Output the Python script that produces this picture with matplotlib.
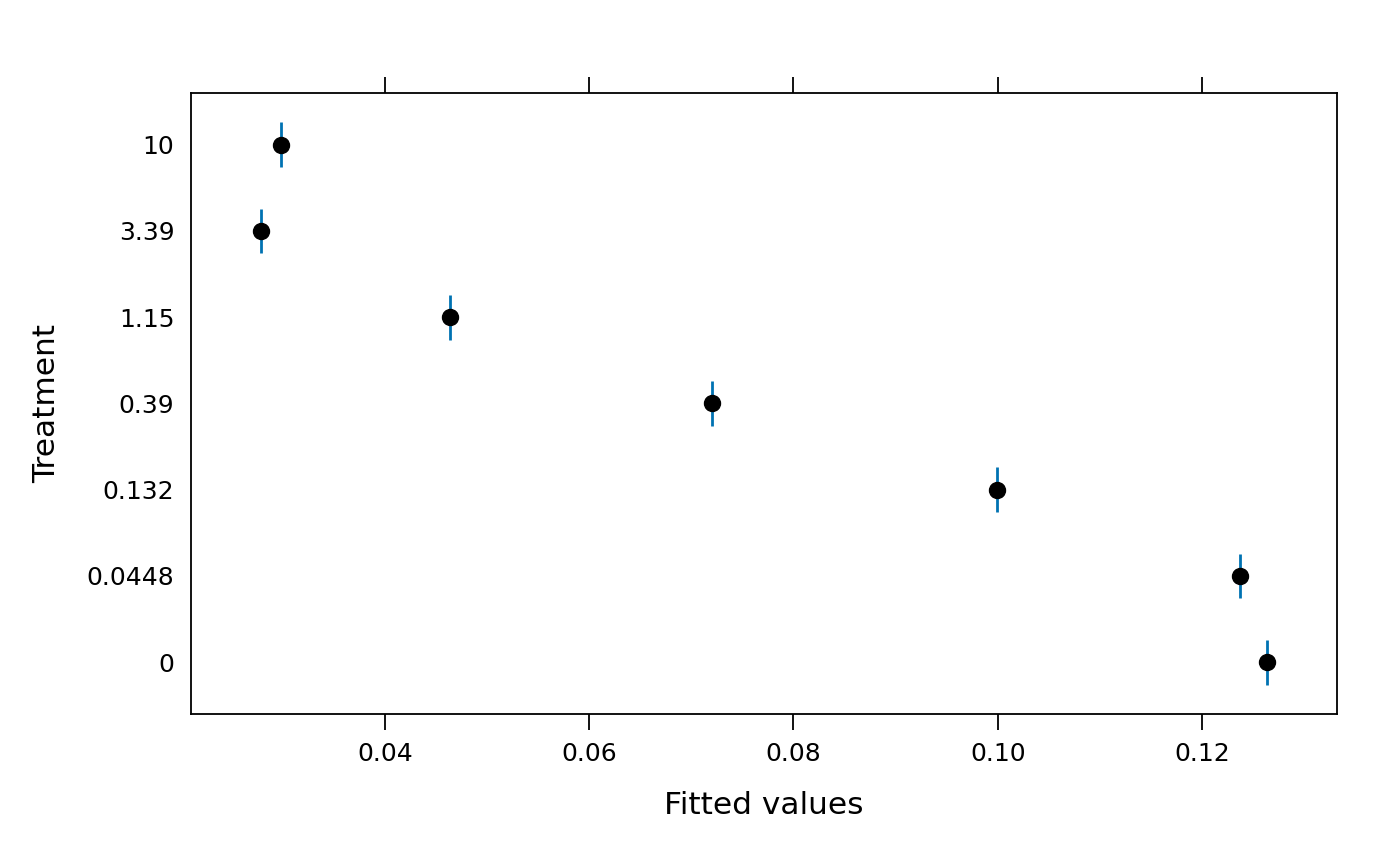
import matplotlib
matplotlib.use("Agg")
import matplotlib.pyplot as plt
import numpy as np

# treatment levels, bottom to top
treatments = ["0", "0.0448", "0.132", "0.39", "1.15", "3.39", "10"]
fitted = [0.12636, 0.12372, 0.0999, 0.07202, 0.04636, 0.02786, 0.02982]
half_width = [0.26, 0.26, 0.26, 0.26, 0.26, 0.26, 0.26]

xticks = [0.04, 0.06, 0.08, 0.10, 0.12]
xticklabels = ["0.04", "0.06", "0.08", "0.10", "0.12"]

fig = plt.figure(figsize=(14, 8.65), dpi=100)
ax = fig.add_axes([0.1364, 0.1746, 0.8186, 0.7179])

ypos = np.arange(len(treatments))
hw = np.array(half_width)
ax.vlines(fitted, ypos - hw, ypos + hw, color="#0072b2", lw=2)
ax.plot(fitted, ypos, "o", color="black", ms=11.5, ls="none")

ax.set_xlim(0.0210, 0.13322)
ax.set_ylim(-0.6, 6.6)
ax.set_xticks(xticks)
ax.set_xticklabels(xticklabels)
ax.set_yticks(ypos)
ax.set_yticklabels(treatments)

ax.tick_params(axis="x", which="both", direction="out", length=11.5, width=1.3,
               top=True, labeltop=False, labelsize=18, pad=9)
ax.tick_params(axis="y", length=0, labelsize=18, pad=12)
for s in ax.spines.values():
    s.set_linewidth(1.3)

ax.set_xlabel("Fitted values", fontsize=22.5, labelpad=18)
ax.set_ylabel("Treatment", fontsize=22.5, labelpad=18)

fig.savefig("out.png", dpi=100)
